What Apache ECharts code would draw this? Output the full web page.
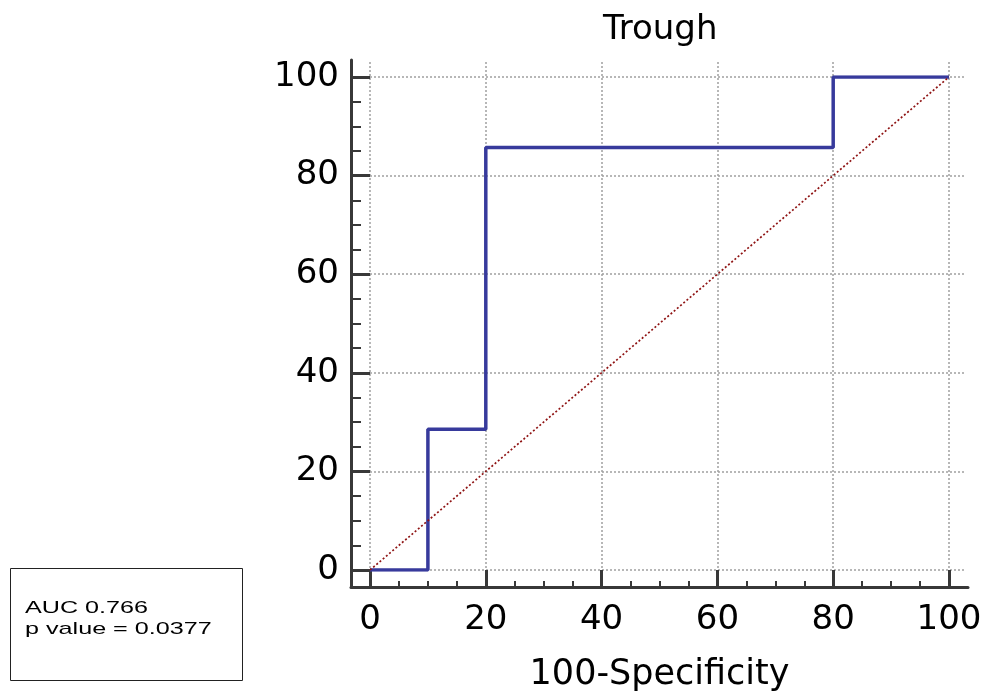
<!DOCTYPE html>
<html>
<head>
<meta charset="utf-8">
<script src="https://cdn.jsdelivr.net/npm/echarts@6/dist/echarts.min.js"></script>
<style>html,body{margin:0;padding:0;background:#fff}#c{width:989px;height:691px}</style>
</head>
<body>
<div id="c"></div>
<script>
// ROC curve data (100-Specificity vs Sensitivity)
const fpr = [0, 10, 10, 20, 20, 80, 80, 100];
const tpr = [0, 0, 28.57, 28.57, 85.71, 85.71, 100, 100];
const refX = [0, 100];
const refY = [0, 100];
const tickVals = [0, 20, 40, 60, 80, 100];
const titleText = 'Trough';
const xName = '100-Specificity';
const statsText = ['AUC 0.766', 'p value = 0.0377'];

const axisColor = '#383838';
const fontFam = 'DejaVu Sans';

const chart = echarts.init(document.getElementById('c'), null, {renderer: 'canvas'});
const hidden = {axisLine:{show:false, onZero:false}, axisTick:{show:false}, axisLabel:{show:false}, splitLine:{show:false}};
chart.setOption({
  animation: false,
  backgroundColor: '#fff',
  title: {
    text: titleText, left: 598, top: 8,
    textStyle: {fontFamily: fontFam, fontSize: 34, fontWeight: 'normal', color: '#000'}
  },
  grid: [
    {left: 370, right: 23, top: 62, bottom: 121, outerBoundsMode: 'none', containLabel: false},   // extended dotted grid
    {left: 370, right: 40, top: 77, bottom: 121, outerBoundsMode: 'none', containLabel: false},   // data area
    {left: 351, right: 21, top: 60, bottom: 104, outerBoundsMode: 'none', containLabel: false}    // frame axis lines
  ],
  xAxis: [
    Object.assign({}, hidden, {type:'value', gridIndex:0, min:0, max:102.94, interval:20,
      splitLine:{show:true, showMaxLine:false, lineStyle:{color:'#a0a0a0', type:[2,2], width:1.5}}}),
    {type:'value', gridIndex:1, min:0, max:100, interval:20, position:'bottom', offset:17,
      axisLine:{show:true, onZero:false, lineStyle:{color:axisColor, width:3}},
      axisTick:{show:true, inside:true, length:17, lineStyle:{color:axisColor, width:3}},
      minorTick:{show:true, splitNumber:4, length:6, lineStyle:{color:axisColor, width:2}},
      axisLabel:{margin:16, fontFamily:fontFam, fontSize:34, color:'#000'},
      splitLine:{show:false},
      name: xName, nameLocation:'middle', nameGap:70,
      nameTextStyle:{fontFamily:fontFam, fontSize:35, color:'#000'}},
    Object.assign({}, hidden, {type:'value', gridIndex:2, min:0, max:1,
      axisLine:{show:true, onZero:false, lineStyle:{color:axisColor, width:3}}})
  ],
  yAxis: [
    Object.assign({}, hidden, {type:'value', gridIndex:0, min:0, max:103.04, interval:20,
      splitLine:{show:true, showMaxLine:false, lineStyle:{color:'#a0a0a0', type:[2,2], width:1.5}}}),
    {type:'value', gridIndex:1, min:0, max:100, interval:20, position:'left', offset:19,
      axisLine:{show:true, onZero:false, lineStyle:{color:axisColor, width:3}},
      axisTick:{show:true, inside:true, length:19, lineStyle:{color:axisColor, width:3}},
      minorTick:{show:true, splitNumber:4, length:10, lineStyle:{color:axisColor, width:2}},
      axisLabel:{margin:12, fontFamily:fontFam, fontSize:34, color:'#000'},
      splitLine:{show:false}},
    Object.assign({}, hidden, {type:'value', gridIndex:2, min:0, max:1,
      axisLine:{show:true, onZero:false, lineStyle:{color:axisColor, width:3}}})
  ],
  series: [
    {type:'line', xAxisIndex:1, yAxisIndex:1, symbol:'none', z:3,
      data: fpr.map((v,i)=>[v, tpr[i]]),
      lineStyle:{color:'#373a9c', width:3.5}},
    {type:'line', xAxisIndex:1, yAxisIndex:1, symbol:'none', z:4,
      data: refX.map((v,i)=>[v, refY[i]]),
      lineStyle:{color:'#8f1414', width:1.7, type:[2,2.2]}}
  ],
  graphic: [
    {type:'rect', left:10, top:568, shape:{width:232, height:112},
      style:{fill:'#fff', stroke:'#222', lineWidth:1}},
    {type:'text', x:25, y:598, scaleX:1.48,
      style:{text: statsText.join('\n'), font:'17px "Liberation Sans"', fill:'#000', lineHeight:21}}
  ]
});
</script>
</body>
</html>
